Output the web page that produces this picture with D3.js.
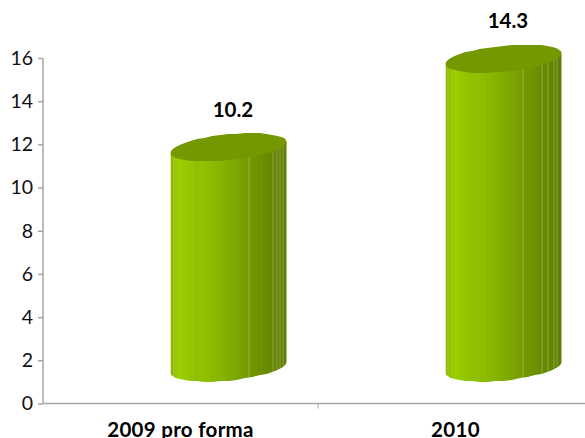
<!DOCTYPE html>
<html><head><meta charset="utf-8">
<style>html,body{margin:0;padding:0;background:#fff}svg{display:block}text{font-family:Lato,"Open Sans",sans-serif}</style>
<script src="https://cdn.jsdelivr.net/npm/d3@7"></script>
</head><body>
<svg id="c" width="585" height="438"></svg>
<script>
const categories = ["2009 pro forma", "2010"];
const values = [10.2, 14.3];
const valueLabels = ["10.2", "14.3"];
const yTicks = [0, 2, 4, 6, 8, 10, 12, 14, 16];
const bandShades = [0.25,0,0,0.04,0.1,0.16,0.14,0.2,0.24,0.28,0.32,0.38,0.44,0.5,0.55,0.62,0.68,0.72,0.78,0.84,0.88,0.92,0.96,1];
const highlights = [[3,78,102,106,109,112],[2,77,96,102,108,111]];

const svg = d3.select("#c");
const x = d3.scaleBand().domain(categories).range([43, 593]);
const y = d3.scaleLinear().domain([0, 16]).range([403.5, 58]);
const shade = d3.scaleLinear().domain([0, 1]).range(["#99cc00", "#5f7f00"]);
const depthX = 48, depthY = 30.5, rx = 58, ry = 13, skew = 5.5;
const line = d3.line();

function ring(cx, cy, from, to, n) {
  return d3.range(n + 1).map(i => {
    const t = from + (to - from) * i / n;
    return [cx + rx * Math.cos(t), Math.round(cy - ry * Math.sin(t) - skew * Math.cos(t))];
  });
}

const defs = svg.append("defs");
categories.forEach((c, i) => {
  const cx = x(c) + x.bandwidth() / 2 + depthX;
  const left = cx - rx;
  const topY = y(values[i]) - depthY - skew;
  const botY = y(0) - depthY - skew;
  const g = svg.append("g");
  const side = [[left, topY + skew], [cx + rx, topY - skew], ...ring(cx, botY, 0, -Math.PI, 22)];
  defs.append("clipPath").attr("id", "side" + i).append("path").attr("d", line(side) + "Z");
  const body = g.append("g").attr("clip-path", `url(#side${i})`);
  const w = (2 * rx) / bandShades.length;
  body.selectAll("rect.band").data(bandShades).join("rect")
    .attr("class", "band")
    .attr("x", (d, k) => left + k * w)
    .attr("width", w + 0.6)
    .attr("y", topY - 20)
    .attr("height", botY - topY + 60)
    .attr("fill", d => shade(d));
  body.selectAll("rect.hl").data(highlights[i]).join("rect")
    .attr("class", "hl")
    .attr("x", d => left + d)
    .attr("width", 1)
    .attr("y", topY - 20)
    .attr("height", botY - topY + 60)
    .attr("fill", "#fff")
    .attr("opacity", 0.28);
  g.append("path").attr("d", line(ring(cx, topY, 0, 2 * Math.PI, 44)) + "Z").attr("fill", "#739800");
  svg.append("text").attr("x", cx + 4.5).attr("y", y(values[i]) - depthY - 36)
    .attr("text-anchor", "middle").attr("font-weight", 700).attr("font-size", 20.5).attr("fill", "#000")
    .text(valueLabels[i]);
});

const axisColor = "#a6a6a6";
const yAxis = svg.append("g").attr("transform", "translate(43,0)")
  .call(d3.axisLeft(y).tickValues(yTicks).tickSize(5).tickPadding(5));
yAxis.selectAll("path,line").attr("stroke", axisColor).attr("stroke-width", 1.5);
yAxis.select("path").attr("d", `M0,${y(16)}V${y(0)}`);
yAxis.selectAll("text").attr("font-size", 19.5).attr("font-family", "Lato").attr("fill", "#111");

const xAxis = svg.append("g").attr("transform", `translate(0,${y(0)})`);
xAxis.append("line").attr("x1", 43).attr("x2", 585).attr("stroke", axisColor).attr("stroke-width", 1.5);
xAxis.selectAll("line.t").data([x.range()[0] + x.bandwidth()]).join("line").attr("class", "t")
  .attr("x1", d => d).attr("x2", d => d).attr("y1", 0).attr("y2", 5).attr("stroke", axisColor);
xAxis.selectAll("text").data(categories).join("text")
  .attr("x", d => x(d) + x.bandwidth() / 2).attr("y", 33)
  .attr("text-anchor", "middle").attr("font-weight", 700).attr("font-size", 20.5).attr("letter-spacing", 0.3).attr("fill", "#000")
  .text(d => d);
</script>
</body></html>
